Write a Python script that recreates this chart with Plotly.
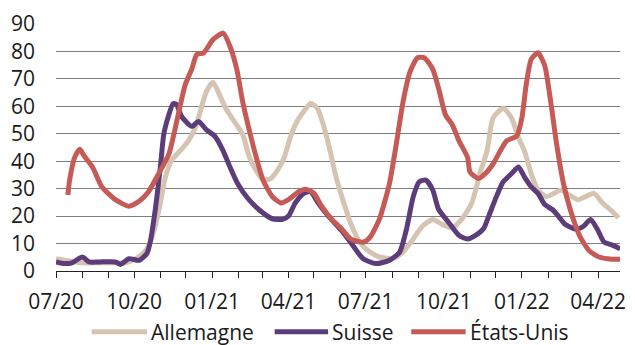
import plotly.graph_objects as go

# Allemagne
de_dates = ["2020-07-01", "2020-08-01", "2020-09-02", "2020-09-21", "2020-10-03", "2020-10-13",
            "2020-10-20", "2020-10-26", "2020-11-01", "2020-11-07", "2020-11-14", "2020-11-26",
            "2020-12-04", "2020-12-12", "2020-12-18", "2020-12-25", "2021-01-02", "2021-01-10",
            "2021-01-17", "2021-01-27", "2021-02-06", "2021-02-14", "2021-02-24", "2021-03-03",
            "2021-03-11", "2021-03-19", "2021-03-27", "2021-04-03", "2021-04-11", "2021-04-19",
            "2021-04-27", "2021-05-05", "2021-05-12", "2021-05-20", "2021-05-26", "2021-05-30",
            "2021-06-05", "2021-06-13", "2021-06-24", "2021-07-06", "2021-07-17", "2021-08-02",
            "2021-08-14", "2021-08-26", "2021-09-06", "2021-09-18", "2021-09-29", "2021-10-11",
            "2021-10-22", "2021-11-03", "2021-11-13", "2021-11-21", "2021-11-28", "2021-12-10",
            "2021-12-20", "2021-12-28", "2022-01-04", "2022-01-12", "2022-01-20", "2022-01-30",
            "2022-02-08", "2022-02-16", "2022-02-26", "2022-03-08", "2022-03-17", "2022-03-27",
            "2022-04-06", "2022-04-15", "2022-04-25"]
de_vals = [4.5, 3.0, 3.0, 3.0, 4.5, 6.9,
           10.5, 16.4, 24.8, 34.3, 40.2, 44.4,
           47.4, 52.1, 58.1, 65.2, 68.8, 64.0,
           59.3, 54.5, 49.8, 41.4, 35.5, 33.1,
           33.7, 36.7, 41.4, 48.6, 54.5, 58.1,
           61.0, 59.3, 53.3, 43.8, 35.5, 31.0,
           25.0, 17.6, 10.5, 6.9, 5.1, 4.5,
           6.9, 11.7, 16.4, 18.8, 17.0, 15.8,
           18.8, 24.8, 36.0, 43.8, 55.7, 59.3,
           55.7, 48.6, 43.8, 35.5, 29.5, 27.1,
           28.3, 29.5, 27.7, 26.0, 27.1, 28.3,
           24.8, 22.4, 19.4]

# Suisse
ch_dates = ["2020-07-01", "2020-07-11", "2020-07-20", "2020-08-01", "2020-08-09", "2020-08-21",
            "2020-09-09", "2020-09-15", "2020-09-25", "2020-10-07", "2020-10-16", "2020-10-20",
            "2020-10-26", "2020-11-01", "2020-11-05", "2020-11-11", "2020-11-16", "2020-11-20",
            "2020-11-26", "2020-12-08", "2020-12-16", "2020-12-25", "2021-01-04", "2021-01-14",
            "2021-01-22", "2021-01-31", "2021-02-12", "2021-02-25", "2021-03-13", "2021-03-25",
            "2021-04-01", "2021-04-09", "2021-04-19", "2021-04-27", "2021-05-06", "2021-05-18",
            "2021-06-03", "2021-06-13", "2021-06-28", "2021-07-13", "2021-07-29", "2021-08-10",
            "2021-08-18", "2021-08-26", "2021-09-02", "2021-09-10", "2021-09-18", "2021-09-25",
            "2021-10-07", "2021-10-19", "2021-10-29", "2021-11-07", "2021-11-17", "2021-11-23",
            "2021-12-02", "2021-12-10", "2021-12-20", "2021-12-28", "2022-01-04", "2022-01-12",
            "2022-01-20", "2022-01-28", "2022-02-06", "2022-02-13", "2022-02-21", "2022-03-06",
            "2022-03-15", "2022-03-23", "2022-03-31", "2022-04-08", "2022-04-17", "2022-04-27"]
ch_vals = [3.3, 2.7, 3.0, 5.1, 3.3, 3.3,
           3.3, 2.4, 4.5, 3.9, 6.3, 10.5,
           22.4, 37.9, 49.8, 56.9, 61.0, 60.7,
           56.3, 52.7, 54.5, 51.5, 49.2, 43.8,
           37.9, 31.9, 26.5, 22.4, 19.0, 18.8,
           20.0, 24.8, 28.3, 28.9, 24.8, 20.0,
           14.6, 10.5, 4.5, 2.7, 3.9, 6.9,
           15.2, 27.1, 32.5, 33.1, 29.5, 22.4,
           17.6, 12.9, 11.7, 12.9, 15.5, 20.0,
           27.1, 32.5, 35.5, 37.9, 34.3, 30.7,
           28.3, 24.2, 22.4, 20.0, 17.0, 15.2,
           16.4, 18.8, 15.2, 10.5, 9.5, 8.1]

# États-Unis
us_dates = ["2020-07-15", "2020-07-17", "2020-07-23", "2020-07-29", "2020-08-03", "2020-08-13",
            "2020-08-24", "2020-09-09", "2020-09-25", "2020-10-07", "2020-10-18", "2020-10-30",
            "2020-11-11", "2020-11-22", "2020-11-30", "2020-12-08", "2020-12-14", "2020-12-22",
            "2021-01-02", "2021-01-14", "2021-01-22", "2021-01-30", "2021-02-06", "2021-02-14",
            "2021-02-22", "2021-03-02", "2021-03-13", "2021-03-23", "2021-04-01", "2021-04-13",
            "2021-04-21", "2021-05-01", "2021-05-10", "2021-05-22", "2021-06-03", "2021-06-13",
            "2021-06-28", "2021-07-06", "2021-07-17", "2021-07-29", "2021-08-06", "2021-08-14",
            "2021-08-22", "2021-08-31", "2021-09-08", "2021-09-18", "2021-09-25", "2021-10-03",
            "2021-10-11", "2021-10-19", "2021-10-29", "2021-11-01", "2021-11-11", "2021-11-19",
            "2021-11-28", "2021-12-14", "2021-12-26", "2022-01-01", "2022-01-06", "2022-01-12",
            "2022-01-20", "2022-01-28", "2022-02-04", "2022-02-11", "2022-02-19", "2022-02-27",
            "2022-03-10", "2022-03-21", "2022-04-02", "2022-04-17", "2022-04-27"]
us_vals = [27.7, 33.0, 41.4, 44.4, 42.0, 37.9,
           30.7, 26.0, 23.6, 25.4, 28.9, 35.5,
           42.6, 56.9, 67.6, 73.6, 78.9, 79.5,
           84.3, 86.7, 81.9, 73.6, 61.7, 51.0,
           41.4, 33.1, 27.1, 24.8, 26.0, 28.9,
           29.8, 28.3, 23.6, 18.8, 15.2, 11.7,
           10.5, 12.3, 18.8, 31.9, 46.2, 61.7,
           72.4, 77.7, 77.7, 73.6, 66.4, 56.9,
           53.3, 47.4, 41.4, 36.0, 33.7, 35.5,
           39.0, 47.4, 49.2, 55.7, 67.6, 77.1,
           79.5, 74.8, 61.7, 46.2, 31.9, 22.4,
           12.9, 7.5, 5.1, 4.3, 4.3]

series = [
    ("Allemagne", de_dates, de_vals, "#D5C4B1"),
    ("Suisse", ch_dates, ch_vals, "#5C3D7A"),
    ("États-Unis", us_dates, us_vals, "#C65A57"),
]

FONT = "Open Sans"
TXT = "#1a1a1a"

fig = go.Figure()
for name, xs, ys, col in series:
    fig.add_trace(go.Scatter(x=xs, y=ys, mode="lines", name=name,
                             line=dict(color=col, width=5, shape="spline", smoothing=0.6),
                             showlegend=False))

# Legend drawn as line samples + labels below the plot
legend_items = [
    ("Allemagne", "#D5C4B1", 92, 148),
    ("Suisse", "#5C3D7A", 277, 331),
    ("États-Unis", "#C65A57", 415, 470),
]
L, R, T, B = 56, 626, 19, 271
W, H = R - L, B - T
def px_x(p):
    return (p - L) / W
def px_y(p):
    return (B - p) / H

ly = 333
for name, col, x0, x1 in legend_items:
    fig.add_shape(type="line", xref="paper", yref="paper",
                  x0=px_x(x0), x1=px_x(x1), y0=px_y(ly), y1=px_y(ly),
                  line=dict(color=col, width=5))
    fig.add_annotation(xref="paper", yref="paper", x=px_x(x1 + 2), y=px_y(ly),
                       text=name, showarrow=False, xanchor="left", yanchor="middle",
                       font=dict(family=FONT, size=21, color=TXT))

fig.update_layout(
    width=635, height=345,
    margin=dict(l=L, r=635 - R, t=T, b=345 - B),
    paper_bgcolor="white", plot_bgcolor="white",
    font=dict(family=FONT, size=21, color=TXT),
)
fig.update_xaxes(
    type="date",
    range=["2020-07-01", "2022-04-26 16:00"],
    tick0="2020-07-01", dtick="M3", tickformat="%m/%y",
    ticks="outside", ticklen=6, tickcolor="#222", tickwidth=1,
    minor=dict(dtick="M1", tick0="2020-07-01", ticks="outside", ticklen=6,
               tickcolor="#222", tickwidth=1, showgrid=False),
    showgrid=False, showline=True, linecolor="#222", linewidth=1,
    zeroline=False, ticklabelstandoff=6,
    tickfont=dict(family=FONT, size=21, color=TXT),
)
fig.update_yaxes(
    range=[0, 90], dtick=10, tick0=0,
    showgrid=True, gridcolor="#7f7f7f", gridwidth=1,
    zeroline=False, showline=False, ticks="",
    ticklabelstandoff=20,
    tickfont=dict(family=FONT, size=21, color=TXT),
)

fig.write_html("out.html")
